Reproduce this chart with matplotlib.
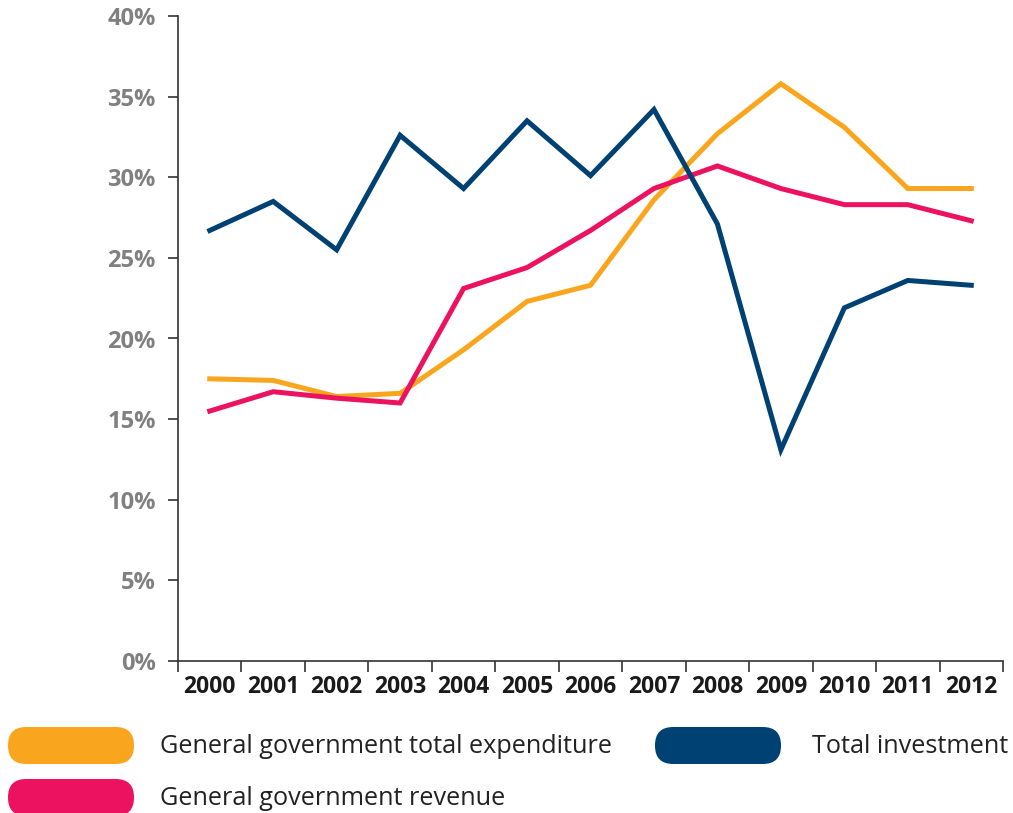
import matplotlib
matplotlib.use("Agg")
import matplotlib.pyplot as plt
from matplotlib.patches import FancyBboxPatch
from matplotlib.ticker import FixedLocator, FuncFormatter

years = ["2000", "2001", "2002", "2003", "2004", "2005", "2006",
         "2007", "2008", "2009", "2010", "2011", "2012"]
expenditure = [17.5, 17.4, 16.4, 16.6, 19.3, 22.3, 23.3, 28.6, 32.7, 35.8, 33.1, 29.3, 29.3]
revenue = [15.5, 16.7, 16.3, 16.0, 23.1, 24.4, 26.7, 29.3, 30.7, 29.3, 28.3, 28.3, 27.3]
investment = [26.7, 28.5, 25.5, 32.6, 29.3, 33.5, 30.1, 34.2, 27.1, 13.1, 21.9, 23.6, 23.3]

labels = ["General government total expenditure", "Total investment",
          "General government revenue"]
colors = {"exp": "#F9A61E", "inv": "#004173", "rev": "#EC1260"}

fig = plt.figure(figsize=(10.13, 8.13), dpi=100)
ax = fig.add_axes([178 / 1013, 1 - 661 / 813, 825 / 1013, 645 / 813])

x = list(range(len(years)))
lw = 3.6
ax.plot(x, expenditure, color=colors["exp"], lw=lw, solid_joinstyle="miter", zorder=3)
ax.plot(x, revenue, color=colors["rev"], lw=lw, solid_joinstyle="miter", zorder=4)
ax.plot(x, investment, color=colors["inv"], lw=lw, solid_joinstyle="miter", zorder=5)

ax.set_xlim(-0.5, len(years) - 0.5)
ax.set_ylim(0, 40)

for s in ["top", "right"]:
    ax.spines[s].set_visible(False)
for s in ["left", "bottom"]:
    ax.spines[s].set_color("#333333")
    ax.spines[s].set_linewidth(1.2)

ax.yaxis.set_major_locator(FixedLocator(range(0, 41, 5)))
ax.yaxis.set_major_formatter(FuncFormatter(lambda v, p: f"{int(v)}%"))
ax.tick_params(axis="y", direction="out", length=7, width=1.2, color="#333333",
               labelsize=17, labelcolor="#808080", pad=9)
for t in ax.get_yticklabels():
    t.set_fontfamily("Open Sans")
    t.set_fontweight("bold")

ax.xaxis.set_major_locator(FixedLocator([i - 0.5 for i in range(len(years) + 1)]))
ax.xaxis.set_major_formatter(FuncFormatter(lambda v, p: ""))
ax.xaxis.set_minor_locator(FixedLocator(x))
ax.xaxis.set_minor_formatter(FuncFormatter(lambda v, p: years[int(round(v))]))
ax.tick_params(axis="x", which="major", direction="out", length=8, width=1.2,
               color="#333333")
ax.tick_params(axis="x", which="minor", length=0, labelsize=16.5, labelcolor="#1a1a1a",
               pad=10)
for t in ax.get_xticklabels(minor=True):
    t.set_fontfamily("Open Sans")
    t.set_fontweight("bold")

# Legend drawn as rounded swatches with text
def swatch(x0, y0, color):
    w, h = 126 / 1013, 37 / 813
    p = FancyBboxPatch((x0 / 1013, 1 - y0 / 813 - h), w, h,
                       boxstyle="round,pad=0,rounding_size=0.018",
                       transform=fig.transFigure, facecolor=color,
                       edgecolor="none", mutation_aspect=1013 / 813)
    fig.patches.append(p)

swatch(8, 727, colors["exp"])
swatch(655, 727, colors["inv"])
swatch(8, 779, colors["rev"])
fs = 18.2
fig.text(160 / 1013, 1 - 746 / 813, labels[0], fontsize=fs, va="center",
         family="Open Sans", color="#222222")
fig.text(812 / 1013, 1 - 746 / 813, labels[1], fontsize=fs, va="center",
         family="Open Sans", color="#222222")
fig.text(160 / 1013, 1 - 798 / 813, labels[2], fontsize=fs, va="center",
         family="Open Sans", color="#222222")

fig.savefig("out.png", dpi=100)
